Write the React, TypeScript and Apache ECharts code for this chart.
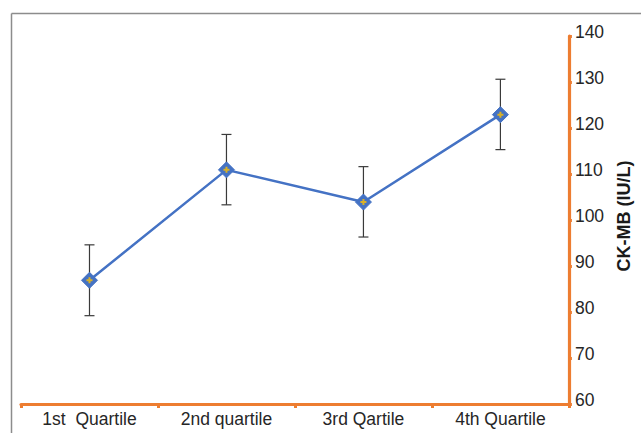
import React, { useEffect, useRef } from "react";
import * as echarts from "echarts";

const categories = ["1st  Quartile", "2nd quartile", "3rd Qartile", "4th Quartile"];
const means = [86.9, 110.9, 103.9, 122.9];
const errLow = [79.2, 103.3, 96.3, 115.3];
const errHigh = [94.6, 118.6, 111.6, 130.6];
const yTicks = { min: 60, max: 140, interval: 10 };
const yName = "CK-MB (IU/L)";

const ORANGE = "#ED7D31";
const BLUE = "#4472C4";
const FONT = "Liberation Sans, Arial, sans-serif";

export default function App() {
  const ref = useRef<HTMLDivElement>(null);
  useEffect(() => {
    if (!ref.current) return;
    const chart = echarts.init(ref.current, null, { renderer: "svg" });
    const errData = categories.map((_, i) => [i, errLow[i], errHigh[i]]);
    chart.setOption({
      animation: false,
      backgroundColor: "#fff",
      grid: { left: 21, right: 65, top: 36, bottom: 29, containLabel: false },
      xAxis: {
        type: "category",
        data: categories,
        boundaryGap: true,
        axisLine: { show: true, lineStyle: { color: ORANGE, width: 3.2 } },
        axisTick: { show: true, length: 4, lineStyle: { color: ORANGE, width: 3 } },
        axisLabel: {
          color: "#262626",
          fontSize: 17.5,
          fontFamily: FONT,
          margin: 6,
        },
        splitLine: { show: false },
      },
      yAxis: {
        type: "value",
        position: "right",
        min: yTicks.min,
        max: yTicks.max,
        interval: yTicks.interval,
        name: yName,
        nameLocation: "middle",
        nameRotate: 90,
        nameGap: 42,
        nameTextStyle: {
          color: "#1a1a1a",
          fontSize: 18,
          fontWeight: "bold",
          fontFamily: FONT,
          padding: [0, 0, 0, 8],
        },
        axisLine: { show: true, lineStyle: { color: ORANGE, width: 3.2 } },
        axisTick: { show: true, length: 3, lineStyle: { color: ORANGE, width: 3 } },
        axisLabel: {
          fontFamily: FONT,
          margin: 6,
          formatter: (v: number) => "{a|" + v + "}",
          rich: {
            a: {
              color: "#262626",
              fontSize: 17.5,
              fontFamily: FONT,
              padding: [0, 0, 8, 0],
            },
          },
        },
        splitLine: { show: false },
      },
      graphic: [
        {
          type: "line",
          shape: { x1: 11.5, y1: 13.5, x2: 11.5, y2: 433 },
          style: { stroke: "#8c8c8c", lineWidth: 1.5 },
          z: 100,
        },
        {
          type: "line",
          shape: { x1: 11.5, y1: 13.5, x2: 641, y2: 13.5 },
          style: { stroke: "#8c8c8c", lineWidth: 1.5 },
          z: 100,
        },
      ],
      series: [
        {
          type: "custom",
          data: errData,
          z: 1,
          renderItem: (params: any, api: any) => {
            const x = api.value(0);
            const lo = api.coord([x, api.value(1)]);
            const hi = api.coord([x, api.value(2)]);
            const hw = 5;
            const st = { stroke: "#3a3a3a", lineWidth: 1.2 };
            return {
              type: "group",
              children: [
                { type: "line", shape: { x1: lo[0], y1: lo[1], x2: hi[0], y2: hi[1] }, style: st },
                { type: "line", shape: { x1: lo[0] - hw, y1: lo[1], x2: lo[0] + hw, y2: lo[1] }, style: st },
                { type: "line", shape: { x1: hi[0] - hw, y1: hi[1], x2: hi[0] + hw, y2: hi[1] }, style: st },
              ],
            };
          },
        },
        {
          type: "line",
          data: means,
          z: 3,
          symbol: "diamond",
          symbolSize: 16,
          itemStyle: { color: BLUE, borderColor: BLUE, borderWidth: 1 },
          lineStyle: { color: BLUE, width: 2.5 },
        },
        {
          type: "scatter",
          data: means,
          z: 4,
          symbol: "path://M2,0 L4,0 L4,2 L6,2 L6,4 L4,4 L4,6 L2,6 L2,4 L0,4 L0,2 L2,2 Z",
          symbolSize: 6,
          itemStyle: { color: "#FFC000" },
        },
      ],
    });
    return () => chart.dispose();
  }, []);
  return (
    <div
      ref={ref}
      style={{ position: "fixed", left: 0, top: 0, width: 641, height: 433 }}
    />
  );
}
